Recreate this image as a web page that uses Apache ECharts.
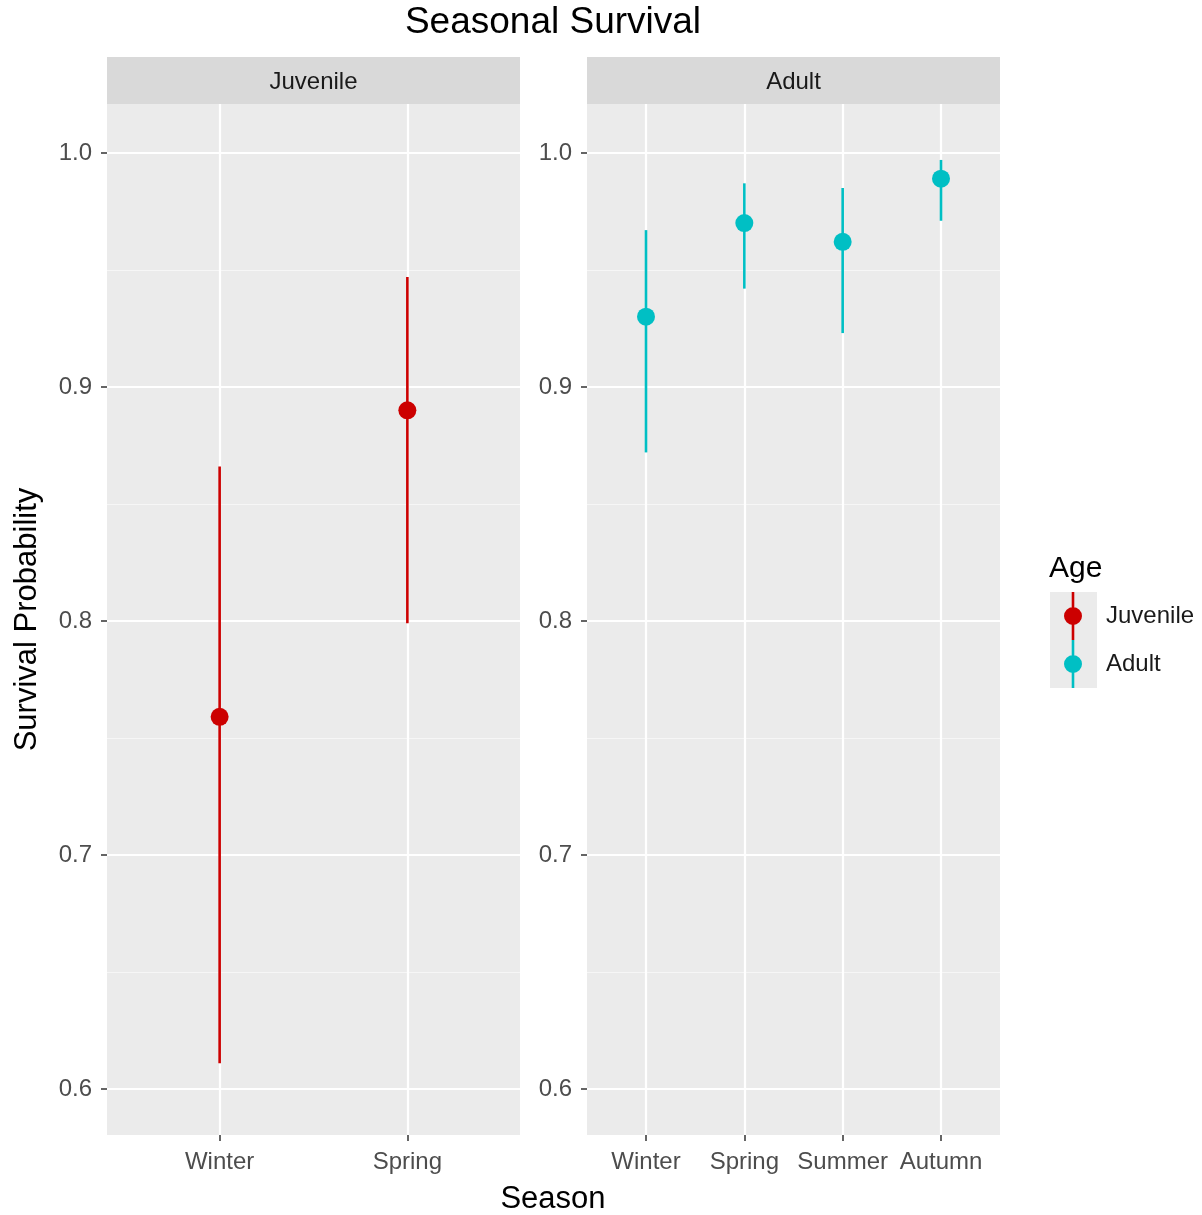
<!DOCTYPE html>
<html>
<head>
<meta charset="utf-8">
<script src="https://cdn.jsdelivr.net/npm/echarts@6/dist/echarts.min.js"></script>
<style>html,body{margin:0;padding:0;background:#fff;}#c{width:1202px;height:1215px;}</style>
</head>
<body>
<div id="c"></div>
<script>
const juvSeasons = ['Winter', 'Spring'];
const adultSeasons = ['Winter', 'Spring', 'Summer', 'Autumn'];
const juvEstimate = [0.759, 0.890];
const juvLower = [0.611, 0.799];
const juvUpper = [0.866, 0.947];
const adultEstimate = [0.930, 0.970, 0.962, 0.989];
const adultLower = [0.872, 0.942, 0.923, 0.971];
const adultUpper = [0.967, 0.987, 0.985, 0.997];
const yTicks = [0.6, 0.7, 0.8, 0.9, 1.0];
const yMinorTicks = [0.65, 0.75, 0.85, 0.95];
const ageGroups = ['Juvenile', 'Adult'];

const FONT = 'Liberation Sans, Arial, sans-serif';
const RED = '#cc0000';
const CYAN = '#00BFC4';
const Y_MIN = 0.5803, Y_MAX = 1.0209;

const panels = [
  {left: 107, cats: juvSeasons, est: juvEstimate, lo: juvLower, hi: juvUpper, color: RED, name: 'Juvenile'},
  {left: 587, cats: adultSeasons, est: adultEstimate, lo: adultLower, hi: adultUpper, color: CYAN, name: 'Adult'}
];
const PW = 413, PTOP = 104, PH = 1031;

const grids = [], xAxes = [], yAxes = [], series = [];
panels.forEach((p, gi) => {
  grids.push({left: p.left, top: PTOP, width: PW, height: PH, show: true, backgroundColor: '#ebebeb', borderWidth: 0});
  const xVals = p.cats.map((c, i) => i + 1);
  xAxes.push({
    type: 'value', gridIndex: gi, min: 0.4, max: p.cats.length + 0.6,
    axisLine: {show: false},
    axisTick: {show: true, length: 6, lineStyle: {color: '#333', width: 1.5}, customValues: xVals},
    axisLabel: {show: true, customValues: xVals, margin: 15, color: '#4d4d4d', fontSize: 24, fontFamily: FONT,
      formatter: v => p.cats[Math.round(v) - 1] || ''},
    splitLine: {show: true, lineStyle: {color: '#ffffff', width: 2.2}}
  });
  yAxes.push({
    type: 'value', gridIndex: gi, min: Y_MIN, max: Y_MAX,
    axisLine: {show: false},
    axisTick: {show: true, length: 6, lineStyle: {color: '#333', width: 1.5}, customValues: yTicks},
    axisLabel: {show: true, customValues: yTicks, margin: 15, color: '#4d4d4d', fontSize: 24, fontFamily: FONT,
      formatter: v => v.toFixed(1)},
    splitLine: {show: true, lineStyle: {color: '#ffffff', width: 2.2}},
    name: gi === 0 ? 'Survival Probability' : '', nameLocation: 'middle', nameGap: 64,
    nameTextStyle: {fontSize: 31, color: '#000', fontFamily: FONT}
  });
  yAxes.push({
    type: 'value', gridIndex: gi, min: Y_MIN, max: Y_MAX,
    axisLine: {show: false},
    axisTick: {show: false, customValues: yMinorTicks},
    axisLabel: {show: false, customValues: yMinorTicks},
    splitLine: {show: true, lineStyle: {color: '#f6f6f6', width: 1.1}}
  });
  const yIdx = gi * 2;
  series.push({
    type: 'custom', name: p.name, xAxisIndex: gi, yAxisIndex: yIdx,
    data: p.cats.map((c, i) => [i + 1, p.lo[i], p.hi[i]]),
    encode: {x: 0, y: [1, 2]},
    itemStyle: {color: p.color},
    renderItem: (params, api) => {
      const a = api.coord([api.value(0), api.value(1)]);
      const b = api.coord([api.value(0), api.value(2)]);
      return {type: 'line', shape: {x1: a[0], y1: a[1], x2: b[0], y2: b[1]},
        style: {stroke: p.color, lineWidth: 2.6}};
    },
    z: 3
  });
  series.push({
    type: 'scatter', name: p.name, xAxisIndex: gi, yAxisIndex: yIdx,
    data: p.cats.map((c, i) => [i + 1, p.est[i]]),
    symbol: 'circle', symbolSize: 18,
    itemStyle: {color: p.color, opacity: 1},
    z: 4
  });
});

const ICON = 'path://M7.7,0 L10.3,0 L10.3,48 L7.7,48 Z M0,24 A9,9 0 1 1 18,24 A9,9 0 1 1 0,24 Z';

const option = {
  backgroundColor: '#ffffff',
  animation: false,
  legend: {
    orient: 'vertical', left: 1064, top: 592, padding: 0, itemGap: 0,
    itemWidth: 18, itemHeight: 48, selectedMode: false,
    formatter: name => '{s|}' + name,
    textStyle: {fontSize: 24, color: '#1a1a1a', fontFamily: FONT,
      rich: {s: {width: 19}}},
    data: ageGroups.map((g, i) => ({name: g, icon: ICON, itemStyle: {color: i === 0 ? RED : CYAN}}))
  },
  grid: grids, xAxis: xAxes, yAxis: yAxes, series: series,
  graphic: [
    {type: 'text', x: 553, y: 23, style: {text: 'Seasonal Survival', fontSize: 37, fill: '#000', fontFamily: FONT, textAlign: 'center', textVerticalAlign: 'middle'}, z: 1},
    {type: 'rect', shape: {x: 107, y: 57, width: PW, height: 47}, style: {fill: '#d9d9d9'}, z: 0},
    {type: 'rect', shape: {x: 587, y: 57, width: PW, height: 47}, style: {fill: '#d9d9d9'}, z: 0},
    {type: 'text', x: 107 + PW / 2, y: 82, style: {text: 'Juvenile', fontSize: 24, fill: '#1a1a1a', fontFamily: FONT, textAlign: 'center', textVerticalAlign: 'middle'}, z: 1},
    {type: 'text', x: 587 + PW / 2, y: 82, style: {text: 'Adult', fontSize: 24, fill: '#1a1a1a', fontFamily: FONT, textAlign: 'center', textVerticalAlign: 'middle'}, z: 1},
    {type: 'text', x: 553, y: 1199, style: {text: 'Season', fontSize: 31, fill: '#000', fontFamily: FONT, textAlign: 'center', textVerticalAlign: 'middle'}, z: 1},
    {type: 'text', x: 1049, y: 569, style: {text: 'Age', fontSize: 30, fill: '#000', fontFamily: FONT, textAlign: 'left', textVerticalAlign: 'middle'}, z: 1},
    {type: 'rect', shape: {x: 1050, y: 592, width: 47, height: 96}, style: {fill: '#ebebeb'}, z: 0}
  ]
};

const chart = echarts.init(document.getElementById('c'), null, {renderer: 'canvas'});
chart.setOption(option);
</script>
</body>
</html>
